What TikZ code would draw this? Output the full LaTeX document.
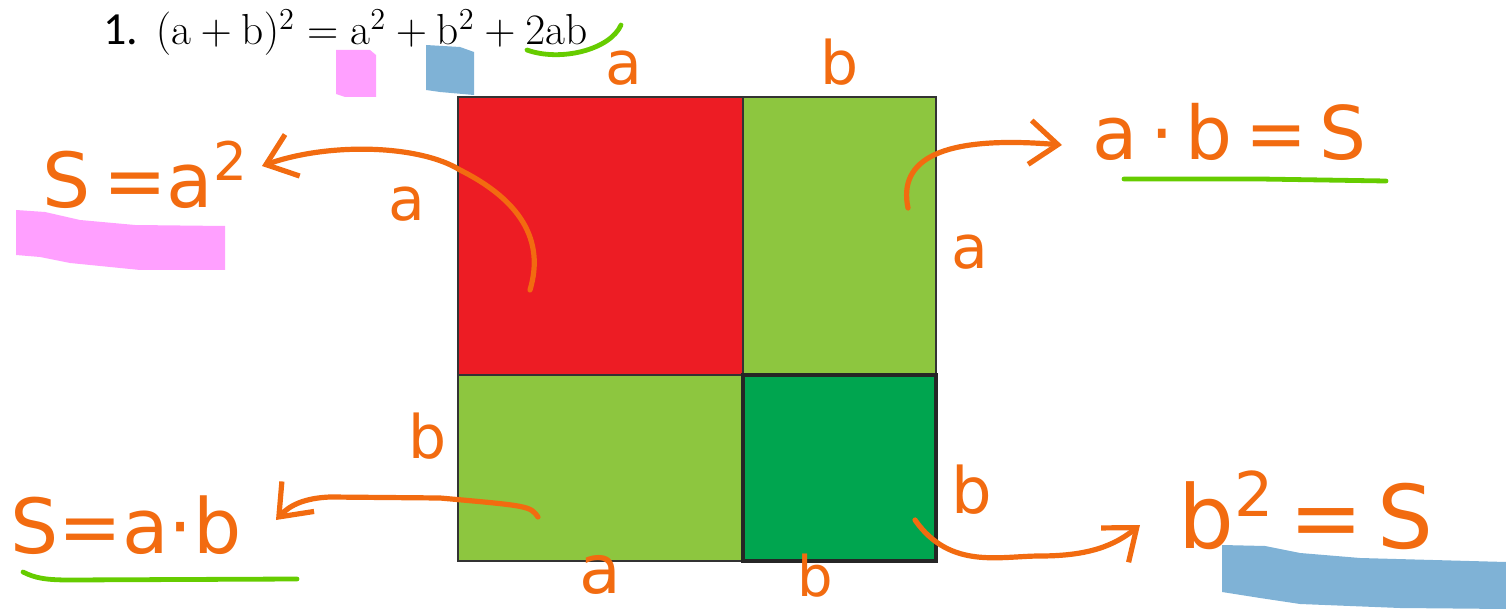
\RequirePackage{fix-cm}
\documentclass[tikz,border=0pt]{standalone}
\usepackage{fontspec}
\usetikzlibrary{arrows.meta}
\newfontfamily\hand{DejaVu Sans}
\newfontfamily\calib{Carlito}
\definecolor{hor}{HTML}{F26B10}
\definecolor{hgreen}{HTML}{66CC00}
\definecolor{hpink}{HTML}{FFA0FF}
\definecolor{hblue}{HTML}{7FB2D6}
\definecolor{sqred}{HTML}{ED1C24}
\definecolor{sqlight}{HTML}{8DC63F}
\definecolor{sqdark}{HTML}{00A54F}
\definecolor{sqedge}{HTML}{333333}
\tikzset{
  ink/.style={draw=hor,line width=2.6pt,line cap=round,line join=round},
  inkarrow/.style={ink,-{Straight Barb[length=14pt,width=22pt,line width=2.6pt]}},
  uline/.style={draw=hgreen,line width=2.4pt,line cap=round},
  lbl/.style={text=hor,font=\hand\fontsize{#1}{#1}\selectfont,inner sep=0pt},
  region/.style={draw=sqedge,line width=1.2pt}
}
\begin{document}
\begin{tikzpicture}[x=0.5pt,y=-0.5pt]
\useasboundingbox (0,0) rectangle (1506,609);
% highlights
\fill[hpink] (336,50) -- (370,50) -- (376,55) -- (376,97) -- (345,97) -- (336,94) -- cycle;
\fill[hblue] (426,45) -- (460,47) -- (474,52) -- (474,95) -- (440,92) -- (426,90) -- cycle;
\fill[hpink] (16,210) -- (45,212) -- (80,220) -- (135,225) -- (225,226) -- (225,270) -- (140,270) -- (70,263) -- (40,257) -- (16,255) -- cycle;
\fill[hblue] (1222,545) -- (1265,546) -- (1300,553) -- (1360,558) -- (1506,562) -- (1506,609) -- (1400,608) -- (1300,604) -- (1260,598) -- (1222,592) -- cycle;
% equation
\node[anchor=base west,inner sep=0pt,font=\fontsize{21.7}{26}\selectfont] (eq) at (103,45)
  {{\calib\fontsize{23}{26}\selectfont 1.} $(\mathrm{a}+\mathrm{b})^2=\mathrm{a}^2+\mathrm{b}^2+2\mathrm{ab}$};
% square regions
\fill[sqred] (458,97) rectangle (743,375);
\fill[sqlight] (743,97) rectangle (936,375);
\fill[sqlight] (458,375) rectangle (743,561);
\fill[sqdark] (743,375) rectangle (936,561);
\draw[region] (458,97) rectangle (936,561);
\draw[region] (743,97) -- (743,561);
\draw[region] (458,375) -- (936,375);
\draw[line width=2.2pt,draw=black!85] (743,375) rectangle (936,561);
\coordinate (redc) at (530,290);
\coordinate (lgtr) at (908,208);
\coordinate (lgbl) at (538,517);
\coordinate (dg) at (915,520);
% side labels
\node[lbl=30] (ta) at (624,68) {a};
\node[lbl=30] (tb) at (840,62) {b};
\node[lbl=30] (ra) at (970,252) {a};
\node[lbl=30] (la) at (407,204) {a};
\node[lbl=30] (lb) at (428,436) {b};
\node[lbl=32] (rb) at (972,490) {b};
\node[lbl=34] (ba) at (600,575) {a};
\node[lbl=28] (bb) at (815,576) {b};
% formulas
\node[lbl=38,anchor=base west] (f1) at (42,208) {S\,=a\textsuperscript{2}};
\node[lbl=37,anchor=base west] (f2) at (1092,160) {a\,·\,b\,=\,S};
\node[lbl=38,anchor=base west] (f3) at (10,553) {S=a·b};
\node[lbl=44,anchor=base west] (f4) at (1178,548) {b\textsuperscript{2}\,=\,S};
% green underlines
\draw[uline] (527,50) .. controls (560,62) and (610,50) .. (621,25);
\draw[uline] (1124,179) -- (1260,179) -- (1386,181);
\draw[uline] (23,572) .. controls (35,578) and (45,580) .. (70,580) -- (297,579);
% arrows
\draw[inkarrow] (redc) .. controls (545,240) and (520,200) .. (460,170) .. controls (420,145) and (330,142) .. (262,166);
\draw[inkarrow] (lgtr) .. controls (898,160) and (940,135) .. (1062,145);
\draw[inkarrow] (lgbl) .. controls (530,506) .. (440,498) -- (330,497) .. controls (305,498) and (290,505) .. (276,520);
\draw[inkarrow] (dg) .. controls (950,570) and (1000,556) .. (1040,556) .. controls (1090,556) and (1115,545) .. (1140,525);
\end{tikzpicture}
\end{document}
